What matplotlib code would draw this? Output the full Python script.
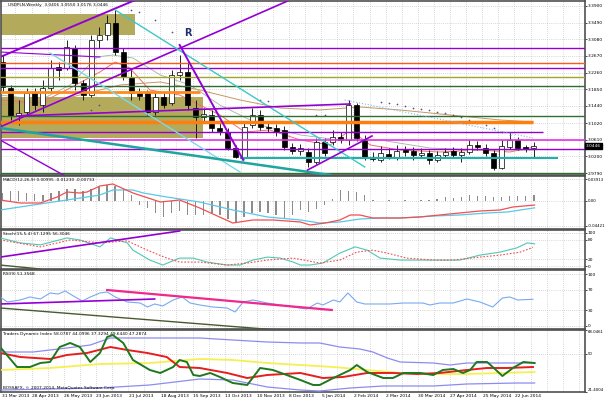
import matplotlib
matplotlib.use("Agg")
import matplotlib.pyplot as plt
import numpy as np

W, H = 605, 403
X0, X1 = 1, 585

# weekly USDPLN candles, week 0 = 31 Mar 2013
opens = [3.2522, 3.1882, 3.1193, 3.1292, 3.1759, 3.1464, 3.1882, 3.2399, 3.2375, 3.2867,
         3.2005, 3.1710, 3.3064, 3.3187, 3.3482, 3.2768, 3.2153, 3.1759, 3.1759, 3.1292,
         3.1661, 3.1513, 3.2202, 3.2276, 3.1390, 3.1169, 3.1218, 3.0898, 3.0800, 3.0405,
         3.0184, 3.0972, 3.1218, 3.0923, 3.0898, 3.0849, 3.0430, 3.0332, 3.0307, 3.0061,
         3.0553, 3.0553, 3.0676, 3.0602, 3.1464, 3.0602, 3.0184, 3.0110, 3.0258, 3.0184,
         3.0356, 3.0332, 3.0233, 3.0282, 3.0110, 3.0233, 3.0332, 3.0233, 3.0307, 3.0479,
         3.0405, 3.0282, 2.9913, 3.0430, 3.0602, 3.0430, 3.0406]
highs = [3.2694, 3.1956, 3.1587, 3.1882, 3.1882, 3.2079, 3.2571, 3.2522, 3.3064, 3.2941,
         3.2079, 3.3187, 3.3384, 3.3679, 3.3802, 3.2867, 3.2325, 3.1882, 3.1833, 3.1784,
         3.1784, 3.2325, 3.2694, 3.2571, 3.1587, 3.1390, 3.1341, 3.1095, 3.0898, 3.0479,
         3.1046, 3.1390, 3.1341, 3.1046, 3.0996, 3.0947, 3.0529, 3.0504, 3.0405, 3.0651,
         3.0651, 3.0849, 3.0800, 3.1587, 3.1513, 3.0726, 3.0307, 3.0455, 3.0405, 3.0479,
         3.0455, 3.0430, 3.0405, 3.0356, 3.0332, 3.0405, 3.0430, 3.0405, 3.0602, 3.0578,
         3.0504, 3.0356, 3.0602, 3.0800, 3.0676, 3.0479, 3.0550]
lows = [3.1784, 3.1095, 3.0972, 3.1218, 3.1341, 3.1292, 3.1784, 3.2079, 3.2325, 3.1833,
        3.1587, 3.1661, 3.2867, 3.3064, 3.2694, 3.2079, 3.1587, 3.1587, 3.1218, 3.1218,
        3.1390, 3.1464, 3.2079, 3.1341, 3.0651, 3.1046, 3.0800, 3.0726, 3.0356, 3.0160,
        3.0135, 3.0898, 3.0849, 3.0800, 3.0701, 3.0356, 3.0258, 3.0233, 2.9938, 3.0012,
        3.0209, 3.0479, 3.0529, 3.0479, 3.0578, 3.0110, 3.0086, 3.0061, 3.0135, 3.0110,
        3.0209, 3.0110, 3.0160, 3.0012, 3.0061, 3.0184, 3.0160, 3.0061, 3.0258, 3.0356,
        3.0209, 2.9864, 2.9889, 3.0381, 3.0356, 3.0307, 3.0176]
closes = [3.1907, 3.1193, 3.1267, 3.1759, 3.1464, 3.1882, 3.2375, 3.2325, 3.2891, 3.2005,
          3.1710, 3.3064, 3.3187, 3.3482, 3.2768, 3.2153, 3.1759, 3.1685, 3.1292, 3.1661,
          3.1464, 3.2202, 3.2276, 3.1464, 3.1169, 3.1242, 3.0898, 3.0824, 3.0405, 3.0184,
          3.0923, 3.1218, 3.0923, 3.0898, 3.0800, 3.0430, 3.0332, 3.0405, 3.0061, 3.0553,
          3.0282, 3.0676, 3.0602, 3.1464, 3.0651, 3.0184, 3.0135, 3.0282, 3.0184, 3.0332,
          3.0307, 3.0233, 3.0282, 3.0110, 3.0233, 3.0307, 3.0233, 3.0307, 3.0479, 3.0430,
          3.0282, 2.9913, 3.0455, 3.0602, 3.0405, 3.0381, 3.0446]

date_labels = ["31 Mar 2013", "28 Apr 2013", "26 May 2013", "23 Jun 2013", "21 Jul 2013",
               "18 Aug 2013", "15 Sep 2013", "13 Oct 2013", "10 Nov 2013", "8 Dec 2013",
               "5 Jan 2014", "2 Feb 2014", "2 Mar 2014", "30 Mar 2014", "27 Apr 2014",
               "25 May 2014", "22 Jun 2014"]
price_ticks = [3.3900, 3.3490, 3.3080, 3.2670, 3.2260, 3.1850, 3.1440, 3.1020, 3.0610, 3.0200, 2.9790]

# moving averages on the price chart (week index, price)
ma_fast_x = [-0.3, 4.7, 8.4, 12.1, 14.0, 15.8, 18.3, 22.0, 24.5, 27.0, 30.1, 33.2, 37.0, 40.7, 43.2, 45.7, 49.4, 54.3, 59.3, 63.0, 66.1]
ma_fast_y = [3.1587, 3.1513, 3.1882, 3.2276, 3.2522, 3.2375, 3.1833, 3.1710, 3.1464, 3.1218, 3.0800, 3.0849, 3.0602, 3.0479, 3.0849, 3.0479, 3.0356, 3.0307, 3.0356, 3.0307, 3.0430]
ma_mid_x = [-0.3, 4.7, 8.4, 11.7, 13.7, 16.2, 19.6, 23.3, 27.0, 32.0, 37.0, 41.9, 46.9, 53.1, 59.3, 66.1]
ma_mid_y = [3.1710, 3.1587, 3.1956, 3.2645, 3.2694, 3.2620, 3.2202, 3.1956, 3.1464, 3.0972, 3.0726, 3.0602, 3.0602, 3.0405, 3.0356, 3.0356]
ma_slow_x = [-0.3, 7.1, 14.6, 19.6, 24.5, 29.5, 34.5, 39.4, 44.4, 49.4, 55.6, 61.8, 65.9]
ma_slow_y = [3.1464, 3.1587, 3.1956, 3.2030, 3.1833, 3.1587, 3.1390, 3.1341, 3.1415, 3.1341, 3.1218, 3.1095, 3.1046]

# parabolic SAR dots
sar_x = [11, 12, 16, 17, 19, 21, 32, 33, 39, 40,
         47, 48, 49, 50, 51, 52, 53, 54, 55, 56, 57, 58, 59, 60, 61, 62, 63]
sar_y = [3.1341, 3.1464, 3.3802, 3.3750, 3.3556, 3.3261, 3.1587, 3.1562, 3.1218, 3.1218,
         3.1538, 3.1513, 3.1489, 3.1439, 3.1390, 3.1365, 3.1341, 3.1292, 3.1267, 3.1218,
         3.1169, 3.1095, 3.1021, 3.0972, 3.0898, 3.0800, 3.0726]

# horizontal levels: price, first week, last week, colour, width
levels = [(3.2867, -1, 73, "#9400d3", 1.0), (3.2497, -1, 73, "#ff5a1e", 1.0),
          (3.2375, -1, 73, "#9400d3", 1.0), (3.2153, -1, 73, "#a3a52a", 1.0),
          (3.1931, -1, 73, "#2f6f2f", 1.0), (3.1784, -1, 24.5, "#ff8c1a", 2.0),
          (3.1193, -1, 73, "#2f6f2f", 1.0), (3.1046, -1, 65.9, "#ff7f0e", 2.5),
          (3.0800, -1, 67.2, "#9400d3", 1.0), (3.0602, -1, 73, "#e632e6", 1.2),
          (3.0381, -1, 73, "#9400d3", 1.0), (3.0160, 29.5, 69.0, "#20b2aa", 1.5),
          (2.9800, -1, 73, "#2f6f2f", 1.0)]

# trend lines: (week, price) -> (week, price), colour, width, style
trends = [((-0.3, 3.2645), (16.5, 3.4048), "#9400d3", 1.4, "-"),
          ((-0.3, 3.0923), (35.7, 3.4048), "#9400d3", 1.2, "-"),
          ((-0.3, 3.2768), (12.1, 3.2645), "#9400d3", 0.8, "-"),
          ((14.0, 3.3802), (45.0, 2.9938), "#3cc8c8", 1.0, "-"),
          ((5.9, 3.2744), (29.5, 2.9815), "#7fd8e8", 1.0, "-"),
          ((-0.3, 3.0898), (40.7, 2.9741), "#1fa5a0", 1.8, "-"),
          ((-0.3, 3.0603), (8.0, 2.9692), "#9400d3", 1.0, "-"),
          ((22.0, 3.2941), (29.9, 3.0110), "#9400d3", 1.4, "-"),
          ((37.9, 2.9864), (45.9, 3.0701), "#9400d3", 1.2, "-"),
          ((1.8, 3.1193), (43.2, 3.1489), "#9400d3", 1.2, "-"),
          ((42.5, 3.1587), (65.9, 3.0651), "#7fb8e8", 0.8, ":")]

# olive zones: first week, last week, low, high
zones = [(-1, 16.5, 3.3187, 3.3704), (-1, 24.9, 3.0651, 3.1661)]

# MACD
macd_hist = [0.0144, 0.0180, 0.0180, 0.0144, 0.0126, 0.0108, 0.0144, 0.0180, 0.0216, 0.0216,
             0.0180, 0.0216, 0.0252, 0.0288, 0.0270, 0.0216, 0.0108,
             -0.0072, -0.0126, -0.0216, -0.0288, -0.0216, -0.0180, -0.0252, -0.0252, -0.0252,
             -0.0216, -0.0252, -0.0324, -0.0378, -0.0288, -0.0216, -0.0198, -0.0216, -0.0252,
             -0.0324, -0.0252, -0.0162, -0.0198, -0.0144, -0.0072,
             0.0036, 0.0198, 0.0180, 0.0162, 0.0108, 0.0018, 0.0000, 0.0018, 0.0000, 0.0018,
             0.0000, 0.0018, 0.0018, 0.0036, 0.0072, 0.0054, 0.0072, 0.0108, 0.0090, 0.0090,
             0.0072, 0.0072, 0.0090, 0.0090, 0.0090, 0.0100]
macd_red_x = [-0.3, 2.2, 4.7, 6.8, 8.0, 9.6, 10.5, 12.1, 13.7, 16.2, 19.6, 22.0, 24.5, 28.6, 31.1, 33.6,
              37.0, 38.2, 40.1, 41.9, 43.2, 44.4, 46.0, 49.4, 51.9, 54.3, 56.8, 59.3, 61.8, 63.4, 66.1]
macd_red_y = [0.0018, -0.0036, -0.0036, 0.0072, 0.0162, 0.0144, 0.0162, 0.0270, 0.0306, 0.0144, -0.0018,
              0.0018, -0.0126, -0.0396, -0.0342, -0.0342, -0.0378, -0.0432, -0.0396, -0.0342, -0.0252,
              -0.0252, -0.0306, -0.0306, -0.0288, -0.0252, -0.0216, -0.0180, -0.0162, -0.0108, -0.0073]
macd_cyan_x = [-0.3, 3.8, 8.0, 12.1, 13.7, 16.2, 17.5, 20.4, 24.5, 28.6, 32.9, 37.0, 39.4, 41.9, 44.4,
               46.9, 49.4, 53.5, 56.8, 60.2, 62.7, 66.1]
macd_cyan_y = [-0.0162, -0.0072, 0.0018, 0.0108, 0.0198, 0.0198, 0.0144, 0.0072, -0.0018, -0.0162,
               -0.0288, -0.0342, -0.0396, -0.0378, -0.0324, -0.0306, -0.0306, -0.0270, -0.0252,
               -0.0216, -0.0198, -0.0123]

# Stochastic
stoch_k_x = [-0.3, 2.2, 4.7, 8.0, 9.6, 12.1, 13.4, 15.5, 16.2, 18.3, 19.9, 22.0, 23.7, 25.4, 27.9, 29.5,
             31.1, 32.9, 34.5, 36.1, 37.0, 38.2, 39.8, 41.9, 43.8, 45.3, 46.9, 49.4, 51.9, 54.3, 56.8,
             59.3, 61.8, 63.9, 65.2, 66.1]
stoch_k_y = [85, 70, 64, 85, 79, 58, 85, 70, 48, 18, 3, 24, 24, 12, 3, 3, 18, 27, 24, 12, 3, 3, 9, 39,
             58, 48, 24, 18, 18, 18, 18, 33, 42, 55, 70, 67.1]
stoch_d_x = [-0.3, 4.7, 8.4, 12.1, 15.5, 18.0, 20.4, 22.0, 24.5, 27.9, 30.4, 32.9, 36.1, 39.4, 41.9,
             44.0, 46.0, 47.8, 50.2, 53.5, 56.0, 59.3, 61.8, 64.3, 65.9]
stoch_d_y = [79, 58, 79, 70, 76, 48, 24, 12, 12, 3, 9, 18, 24, 9, 18, 42, 48, 39, 24, 18, 18, 27, 33, 42, 56.3]

# RSI(9)
rsi_x = [-0.3, 0.6, 2.2, 3.4, 4.7, 5.9, 6.9, 7.8, 8.8, 9.9, 10.9, 12.1, 13.0, 14.0, 15.5, 17.1, 18.0,
         18.9, 19.9, 21.2, 22.3, 23.3, 24.5, 26.1, 27.9, 28.9, 29.9, 31.1, 32.9, 34.5, 36.1, 37.8,
         39.1, 39.8, 41.1, 41.9, 42.9, 44.0, 45.0, 46.5, 48.1, 49.8, 51.0, 52.2, 53.1, 54.3, 56.0,
         57.7, 59.3, 60.9, 62.1, 63.0, 64.0, 65.9]
rsi_y = [55.8, 46.2, 50.0, 55.8, 51.9, 63.5, 61.5, 67.3, 57.7, 48.1, 55.8, 63.5, 65.4, 55.8, 46.2, 44.2,
         36.5, 42.3, 38.5, 50.0, 55.8, 44.2, 40.4, 36.5, 34.6, 26.9, 46.2, 50.0, 44.2, 40.4, 36.5, 32.7,
         44.2, 40.4, 50.0, 46.2, 63.5, 46.2, 42.3, 42.3, 42.3, 44.2, 44.2, 44.2, 40.4, 44.2, 44.2, 51.9,
         46.2, 36.5, 53.8, 55.8, 50.0, 51.4]

# Traders Dynamic Index
tdi_up_x = [-0.3, 3.8, 8.0, 10.9, 13.4, 16.2, 20.4, 24.5, 28.6, 32.9, 37.0, 39.4, 41.9, 44.4, 46.0, 47.8,
            49.4, 53.5, 55.6, 57.7, 61.8, 66.1]
tdi_up_y = [51.50, 51.50, 54.51, 56.76, 62.03, 62.03, 62.03, 62.03, 60.52, 59.02, 58.27, 58.27, 55.26,
            53.75, 51.50, 46.98, 43.97, 43.22, 41.71, 43.22, 43.22, 43.22]
tdi_lo_x = [-0.3, 12.1, 18.3, 24.5, 28.6, 32.9, 37.0, 39.4, 43.2, 47.3, 53.5, 57.7, 63.9, 66.1]
tdi_lo_y = [22.90, 24.41, 26.67, 31.18, 30.43, 25.16, 22.90, 22.15, 24.41, 25.91, 25.91, 27.42, 28.17, 28.17]
tdi_mid_x = [-0.3, 5.9, 12.1, 18.3, 24.5, 28.6, 32.9, 37.0, 41.1, 45.3, 49.4, 53.5, 57.7, 61.8, 66.1]
tdi_mid_y = [37.95, 39.46, 42.47, 43.22, 46.23, 45.48, 43.22, 41.71, 40.21, 37.95, 35.70, 34.94, 34.94,
             35.70, 36.45]
tdi_sig_x = [-0.3, 2.2, 5.9, 8.0, 10.5, 13.4, 15.5, 18.0, 20.4, 22.0, 24.5, 27.9, 30.4, 32.9, 37.0, 39.8,
             42.3, 45.3, 48.5, 51.5, 54.3, 57.7, 60.2, 62.7, 65.9]
tdi_sig_y = [50.74, 47.73, 46.23, 49.24, 50.74, 55.26, 53.00, 50.74, 47.73, 40.21, 39.46, 35.70, 31.93,
             34.19, 35.70, 31.93, 32.69, 35.70, 35.70, 34.94, 35.70, 37.95, 39.46, 39.46, 40.21]
tdi_rsi_x = [-0.3, 1.8, 3.4, 4.7, 5.9, 7.1, 8.4, 9.6, 10.9, 12.1, 13.0, 13.7, 15.0, 16.2, 18.3, 19.6,
             21.2, 22.0, 22.9, 23.7, 24.5, 25.8, 27.0, 28.6, 30.4, 32.0, 33.6, 35.3, 37.0, 38.6, 39.4,
             41.1, 43.2, 44.0, 45.3, 47.3, 48.5, 49.8, 51.9, 53.5, 54.7, 56.0, 57.2, 58.1, 58.9, 60.2,
             60.9, 62.1, 63.4, 64.7, 66.1]
tdi_rsi_y = [55.26, 40.21, 40.21, 43.22, 43.97, 55.26, 58.27, 55.26, 43.97, 50.74, 62.78, 64.29, 58.27,
             45.48, 37.95, 35.70, 40.21, 45.48, 43.97, 34.19, 33.44, 35.70, 32.69, 28.17, 26.67, 39.46,
             37.95, 34.19, 30.43, 26.67, 26.67, 31.93, 37.95, 41.71, 36.45, 31.93, 31.93, 35.70, 35.70,
             34.19, 37.95, 38.71, 35.70, 37.95, 43.97, 43.97, 40.21, 33.44, 39.46, 43.97, 43.22]

FS = 3.2      # axis labels
TFS = 3.1     # panel titles
GRID = dict(color="#b4b4b4", lw=0.5, ls=(0, (1, 2)))
XMIN, XMAX = -0.19, 72.36

fig = plt.figure(figsize=(W / 100, H / 100), dpi=100)
fig.patch.set_facecolor("white")


def panel(top, bottom, fs=FS):
    ax = fig.add_axes([X0 / W, 1 - bottom / H, (X1 - X0) / W, (bottom - top) / H])
    ax.set_xlim(XMIN, XMAX)
    ax.set_xticks([])
    ax.yaxis.tick_right()
    ax.tick_params(axis="y", labelsize=fs, length=1.5, pad=0.5, width=0.5)
    for s in ax.spines.values():
        s.set_color("#505050")
        s.set_linewidth(1.2)
    for g in np.arange(1.6, XMAX, 2):
        ax.axvline(g, zorder=0, **GRID)
    return ax


def set_labels(ax, vals, texts, edge=False):
    ax.set_yticks(vals)
    ax.set_yticklabels(texts)
    for v in vals:
        ax.axhline(v, zorder=0, **GRID)
    if edge:
        labs = ax.get_yticklabels()
        labs[0].set_va("top")
        labs[-1].set_va("bottom")


# ---------------- price chart ----------------
ax = panel(1, 175)
ax.set_ylim(2.9741, 3.4023)
set_labels(ax, price_ticks, ["%.4f" % p for p in price_ticks])

for a, b, lo, hi in zones:
    ax.fill_between([a, b], lo, hi, color="#b3aa5c", lw=0, zorder=1)

o = np.array(opens); c = np.array(closes)
weeks = np.arange(len(c))
ax.vlines(weeks, lows, highs, color="black", lw=0.6, zorder=3)
ax.bar(weeks, np.maximum(np.abs(c - o), 0.0006), bottom=np.minimum(o, c), width=0.62,
       color=np.where(c >= o, "white", "black"), edgecolor="black", lw=0.5, zorder=4)

ax.plot(ma_slow_x, ma_slow_y, color="#c89664", lw=0.7, zorder=2)
ax.plot(ma_mid_x, ma_mid_y, color="#a0b4a0", lw=0.6, zorder=2)
ax.plot(ma_fast_x, ma_fast_y, color="#f07070", lw=0.7, zorder=2)
ax.scatter(sar_x, sar_y, s=1.5, color="#505090", zorder=5, lw=0)

for p, a, b, col, lw in levels:
    ax.plot([a, b], [p, p], color=col, lw=lw, zorder=5, solid_capstyle="butt")
for (a, pa), (b, pb), col, lw, ls in trends:
    ax.plot([a, b], [pa, pb], color=col, lw=lw, ls=ls, zorder=5)

ax.text(23.0, 3.3236, "R", color="#1f2f6f", fontsize=7, fontweight="bold", ha="center", va="center", zorder=6)
ax.text(0.012, 0.988, "USDPLN,Weekly  3.0406 3.0550 3.0176 3.0446", transform=ax.transAxes,
        fontsize=TFS, va="top", ha="left", zorder=7)
ax.text(1.002, closes[-1], "%.4f" % closes[-1], transform=ax.get_yaxis_transform(), fontsize=FS,
        color="white", va="center", ha="left", zorder=8,
        bbox=dict(boxstyle="square,pad=0.2", fc="black", ec="black"))

# ---------------- MACD ----------------
ax = panel(176, 229, fs=2.8)
ax.set_ylim(-0.0504, 0.045)
set_labels(ax, [0.03913, 0.0, -0.04421], ["0.03913", "0.00", "-0.04421"])
ax.bar(weeks, macd_hist, width=0.18, color="#8c8c8c", zorder=2)
ax.plot(macd_cyan_x, macd_cyan_y, color="#5ac8e6", lw=0.9, zorder=3)
ax.plot(macd_red_x, macd_red_y, color="#f05050", lw=0.9, zorder=3)
ax.text(0.004, 0.96, "MACD(12,26,9) 0.00995 -0.01230 -0.00733", transform=ax.transAxes,
        fontsize=TFS, va="top")

# ---------------- Stochastic ----------------
ax = panel(230, 269)
ax.set_ylim(-9, 109)
set_labels(ax, [100, 80, 20, 0], ["100", "80", "20", "0"])
ax.plot(stoch_k_x, stoch_k_y, color="#50c8b4", lw=0.8, zorder=3)
ax.plot(stoch_d_x, stoch_d_y, color="#f05050", lw=0.8, ls=(0, (1.5, 1.5)), zorder=3)
ax.plot([-0.3, 22.0], [27, 106], color="#9400d3", lw=1.2, zorder=4)
ax.plot([-0.3, 4.7], [3, -9], color="#4a5a30", lw=1.0, zorder=4)
ax.text(0.004, 0.96, "Stoch(15,5,4) 67.1295 56.3046", transform=ax.transAxes, fontsize=TFS, va="top")

# ---------------- RSI ----------------
ax = panel(270, 329)
ax.set_ylim(-5.8, 107.7)
set_labels(ax, [100, 70, 30, 0], ["100", "70", "30", "0"])
ax.plot(rsi_x, rsi_y, color="#78aaf0", lw=0.8, zorder=3)
ax.plot([-0.3, 18.9], [42.3, 51.9], color="#9400d3", lw=1.2, zorder=4)
ax.plot([-0.3, 34.1], [34.6, -7.7], color="#4a5a30", lw=1.0, zorder=4)
ax.plot([13.0, 40.9], [69.2, 30.8], color="#f0288c", lw=1.6, zorder=4)
ax.text(0.004, 0.96, "RSI(9) 51.3568", transform=ax.transAxes, fontsize=TFS, va="top")

# ---------------- TDI ----------------
ax = panel(330, 392, fs=2.8)
ax.set_ylim(21.4004, 68.0461)
set_labels(ax, [68.0461, 50, 21.4004], ["68.0461", "50", "21.4004"], edge=True)
ax.plot(tdi_up_x, tdi_up_y, color="#8c8cf0", lw=0.9, zorder=3)
ax.plot(tdi_lo_x, tdi_lo_y, color="#8c8cf0", lw=0.9, zorder=3)
ax.plot(tdi_mid_x, tdi_mid_y, color="#f5f050", lw=1.3, zorder=3)
ax.plot(tdi_sig_x, tdi_sig_y, color="#e61e1e", lw=1.4, zorder=4)
ax.plot(tdi_rsi_x, tdi_rsi_y, color="#1e781e", lw=1.4, zorder=5)
ax.text(0.004, 0.96, "Traders Dynamic Index 58.0787 44.0996 37.3294 49.6440 47.2874",
        transform=ax.transAxes, fontsize=TFS, va="top")
ax.text(0.004, 0.03, "BOSSAFX, \u00a9 2007-2014, MetaQuotes Software Corp.", transform=ax.transAxes,
        fontsize=TFS, va="bottom")
for k, lab in enumerate(date_labels):
    ax.text(max(4 * k - 0.35, -0.1), -0.03, lab, transform=ax.get_xaxis_transform(),
            fontsize=FS, ha="left", va="top")

fig.savefig("out.png", dpi=100)
